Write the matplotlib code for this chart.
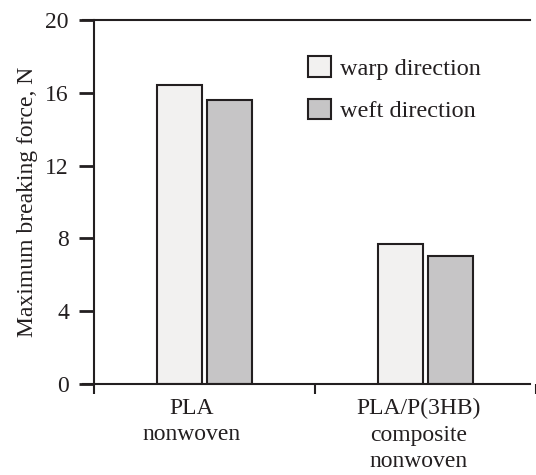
import numpy as np
import matplotlib
matplotlib.use('Agg')
import matplotlib.pyplot as plt

plt.rcParams['font.family'] = ['Liberation Serif', 'DejaVu Serif']

groups = ['PLA\nnonwoven', 'PLA/P(3HB)\ncomposite\nnonwoven']
warp = [16.45, 7.68]
weft = [15.62, 7.03]
series_names = ['warp direction', 'weft direction']
yticks = [0, 4, 8, 12, 16, 20]

fig = plt.figure(figsize=(5.36, 4.75), dpi=100)
ax = fig.add_axes([94 / 536, 91 / 475, 442 / 536, 364 / 475])

x = np.arange(len(groups)) + 0.5
w = 0.205
ax.bar(x - 0.113, warp, w, color='#f2f1f0', edgecolor='#231f20', linewidth=1.5, label=series_names[0])
ax.bar(x + 0.113, weft, w, color='#c6c5c6', edgecolor='#231f20', linewidth=1.5, label=series_names[1])

ax.set_xlim(0, 1.973)
ax.set_ylim(0, 20)
ax.set_yticks(yticks)
ax.set_yticklabels([str(v) for v in yticks], fontsize=17, color='#231f20')
ax.set_xticks([0, 1, 2])
ax.set_xticklabels(['', '', ''])
ax.set_xticks([0.44, 1.47], minor=True)
ax.set_xticklabels(groups, minor=True, fontsize=17, color='#231f20', linespacing=1.35)
ax.tick_params(axis='x', which='minor', length=0, pad=10)
ax.tick_params(axis='x', which='major', direction='out', length=7, width=1.5, color='#231f20')
ax.tick_params(axis='y', direction='out', length=11, width=2, color='#231f20', pad=7)

ax.spines['right'].set_visible(False)
for s in ['left', 'top', 'bottom']:
    ax.spines[s].set_linewidth(1.5)
    ax.spines[s].set_color('#231f20')
ax.spines['bottom'].set_bounds(-0.05, 1.973)
ax.spines['top'].set_bounds(-0.05, 1.973)
ax.spines['bottom'].set_clip_on(False)

ax.set_ylabel('Maximum breaking force, N', fontsize=17, color='#231f20', labelpad=5)

leg = ax.legend(loc='upper left', bbox_to_anchor=(0.435, 0.96), frameon=False, fontsize=17.5,
                handlelength=0.95, handleheight=0.95, handletextpad=0.35, labelspacing=0.75,
                labelcolor='#231f20')

fig.savefig('out.png', dpi=100)
